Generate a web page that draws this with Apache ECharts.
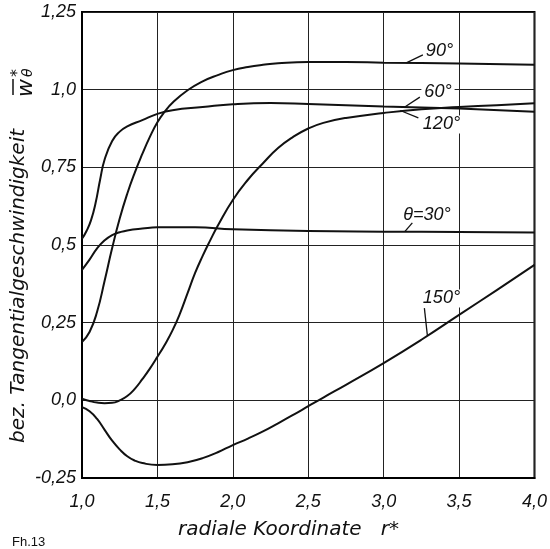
<!DOCTYPE html>
<html>
<head>
<meta charset="utf-8">
<script src="https://cdn.jsdelivr.net/npm/echarts@6/dist/echarts.min.js"></script>
<style>
  html, body { margin: 0; padding: 0; background: #fff; }
  #chart { width: 550px; height: 549px; }
</style>
</head>
<body>
<div id="chart"></div>
<script>
// Tick labels (decimal comma)
const xTickLabels = ['1,0', '1,5', '2,0', '2,5', '3,0', '3,5', '4,0'];
const yTickLabels = ['-0,25', '0,0', '0,25', '0,5', '0,75', '1,0', '1,25'];

// Tangential velocity profiles w*_theta over r* for several angles theta
const r30  = [1.0, 1.05, 1.1, 1.15, 1.2, 1.25, 1.3, 1.4, 1.5, 1.75, 2.0, 2.5, 3.0, 3.5, 4.0];
const w30  = [0.42, 0.453, 0.489, 0.515, 0.532, 0.541, 0.547, 0.553, 0.557, 0.557, 0.551, 0.545, 0.543, 0.542, 0.54];

const r60  = [1.0, 1.03, 1.06, 1.09, 1.12, 1.15, 1.2, 1.25, 1.3, 1.4, 1.5, 1.6, 1.8, 2.0, 2.25, 2.5, 3.0, 3.5, 4.0];
const w60  = [0.52, 0.545, 0.58, 0.635, 0.71, 0.775, 0.835, 0.865, 0.882, 0.902, 0.922, 0.934, 0.944, 0.953, 0.957, 0.954, 0.946, 0.939, 0.929];

const r90  = [1.0, 1.05, 1.1, 1.15, 1.2, 1.25, 1.3, 1.35, 1.4, 1.45, 1.5, 1.55, 1.6, 1.7, 1.8, 1.9, 2.0, 2.1, 2.2, 2.3, 2.5, 2.75, 3.0, 3.5, 4.0];
const w90  = [0.188, 0.22, 0.285, 0.385, 0.49, 0.585, 0.665, 0.733, 0.793, 0.848, 0.895, 0.93, 0.958, 0.998, 1.027, 1.047, 1.063, 1.073, 1.08, 1.085, 1.089, 1.089, 1.087, 1.084, 1.08];

const r120 = [1.0, 1.05, 1.1, 1.15, 1.2, 1.25, 1.3, 1.35, 1.4, 1.45, 1.5, 1.55, 1.6, 1.65, 1.7, 1.75, 1.8, 1.85, 1.9, 2.0, 2.1, 2.2, 2.3, 2.4, 2.5, 2.6, 2.75, 3.0, 3.25, 3.5, 3.75, 4.0];
const w120 = [0.005, -0.002, -0.007, -0.009, -0.008, 0.0, 0.014, 0.037, 0.068, 0.102, 0.14, 0.18, 0.225, 0.28, 0.345, 0.41, 0.465, 0.515, 0.562, 0.645, 0.71, 0.763, 0.812, 0.848, 0.875, 0.893, 0.909, 0.925, 0.937, 0.944, 0.95, 0.956];

const r150 = [1.0, 1.05, 1.1, 1.15, 1.2, 1.25, 1.3, 1.35, 1.4, 1.5, 1.6, 1.7, 1.8, 1.9, 2.0, 2.1, 2.2, 2.3, 2.4, 2.5, 2.6, 2.75, 3.0, 3.25, 3.5, 3.75, 4.0];
const w150 = [-0.022, -0.035, -0.06, -0.095, -0.13, -0.158, -0.18, -0.194, -0.202, -0.208, -0.206, -0.199, -0.186, -0.167, -0.144, -0.123, -0.1, -0.074, -0.047, -0.019, 0.009, 0.05, 0.12, 0.195, 0.275, 0.355, 0.436];

const curveNames = ['θ=30°', '60°', '90°', '120°', '150°'];

const X_MIN = 1, X_MAX = 4, X_STEP = 0.5;
const Y_MIN = -0.25, Y_MAX = 1.25, Y_STEP = 0.25;

const zip = (xs, ys) => xs.map((x, i) => [x, ys[i]]);
const curves = [zip(r30, w30), zip(r60, w60), zip(r90, w90), zip(r120, w120), zip(r150, w150)];

const INK = '#111';
const tickFont = { fontFamily: 'Liberation Sans', fontStyle: 'italic', fontSize: 18, color: INK };

const chart = echarts.init(document.getElementById('chart'), null, { renderer: 'canvas' });

chart.setOption({
  animation: false,
  backgroundColor: '#fff',
  grid: {
    left: 82, right: 9, top: 12, bottom: 71,
    show: true, borderColor: '#000', borderWidth: 2, backgroundColor: 'transparent'
  },
  xAxis: {
    type: 'value', min: X_MIN, max: X_MAX, interval: X_STEP,
    axisLine: { show: true, onZero: false, lineStyle: { color: '#000', width: 2 } },
    axisTick: { show: false },
    splitLine: { show: true, lineStyle: { color: '#222', width: 1 } },
    axisLabel: Object.assign({
      margin: 15,
      formatter: v => xTickLabels[Math.round((v - X_MIN) / X_STEP)]
    }, tickFont)
  },
  yAxis: {
    type: 'value', min: Y_MIN, max: Y_MAX, interval: Y_STEP,
    axisLine: { show: true, onZero: false, lineStyle: { color: '#000', width: 2 } },
    axisTick: { show: false },
    splitLine: { show: true, lineStyle: { color: '#222', width: 1 } },
    axisLabel: Object.assign({
      margin: 6,
      formatter: v => yTickLabels[Math.round((v - Y_MIN) / Y_STEP)]
    }, tickFont)
  },
  series: curves.map((data, i) => ({
    name: curveNames[i],
    type: 'line',
    data: data,
    smooth: 0.5,
    showSymbol: false,
    lineStyle: { color: INK, width: 2 },
    z: 3
  }))
});

// Curve annotations: point on the curve, end of the leader, and text anchor (left, middle)
const annotations = [
  { text: '90°',   on: [3.15, 1.086], end: [3.26, 1.112], at: [3.26, 1.123] },
  { text: '60°',   on: [3.14, 0.944], end: [3.24, 0.976], at: [3.25, 0.991] },
  { text: '120°',  on: [3.11, 0.933], end: [3.23, 0.909], at: [3.24, 0.888] },
  { text: 'θ=30°', on: [3.14, 0.543], end: [3.19, 0.571], at: [3.11, 0.597] },
  { text: '150°',  on: [3.29, 0.208], end: [3.27, 0.297], at: [3.24, 0.328] }
];

const px = p => chart.convertToPixel({ gridIndex: 0 }, p);
const graphics = [];

annotations.forEach(a => {
  const p0 = px(a.on), p1 = px(a.end), pt = px(a.at);
  graphics.push({
    type: 'text', z: 10,
    x: pt[0], y: pt[1],
    style: {
      text: a.text, fill: INK,
      font: 'italic 18px "Liberation Sans"',
      textAlign: 'left', textVerticalAlign: 'middle',
      backgroundColor: '#fff', padding: [0, 3]
    }
  });
  graphics.push({
    type: 'line', z: 11,
    shape: { x1: p0[0], y1: p0[1], x2: p1[0], y2: p1[1] },
    style: { stroke: INK, lineWidth: 1.3 }
  });
});

// Axis titles
const titleFont = 'italic 20px "DejaVu Sans"';
graphics.push({
  type: 'text',
  x: 178, y: 530,
  style: {
    text: 'radiale Koordinate   r*', fill: INK, font: titleFont,
    textAlign: 'left', textVerticalAlign: 'middle'
  }
});

graphics.push({
  type: 'group',
  x: 19, y: 443,
  rotation: Math.PI / 2,
  children: [
    {
      type: 'text', x: 0, y: 0,
      style: { text: 'bez. Tangentialgeschwindigkeit', fill: INK, font: titleFont,
               textAlign: 'left', textVerticalAlign: 'middle' }
    },
    {
      type: 'text', x: 346, y: 7,
      style: { text: 'w', fill: INK, font: 'italic 22px "DejaVu Sans"',
               textAlign: 'left', textVerticalAlign: 'middle' }
    },
    {
      type: 'line',
      shape: { x1: 348, y1: -6, x2: 364, y2: -6 },
      style: { stroke: INK, lineWidth: 1.5 }
    },
    {
      type: 'text', x: 366, y: -1,
      style: { text: '*', fill: INK, font: 'italic 16px "DejaVu Sans"',
               textAlign: 'left', textVerticalAlign: 'middle' }
    },
    {
      type: 'text', x: 366, y: 9.5,
      style: { text: 'θ', fill: INK, font: 'italic 14px "DejaVu Sans"',
               textAlign: 'left', textVerticalAlign: 'middle' }
    }
  ]
});

// Figure number
graphics.push({
  type: 'text',
  x: 12, y: 542,
  style: { text: 'Fh.13', fill: INK, font: '13px "Liberation Sans"',
           textAlign: 'left', textVerticalAlign: 'middle' }
});

chart.setOption({ graphic: graphics });
</script>
</body>
</html>
